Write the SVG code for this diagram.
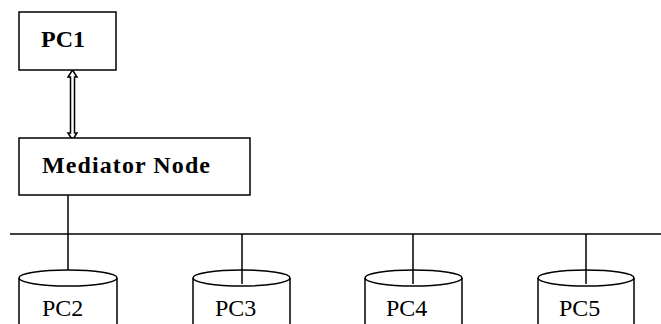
<svg xmlns="http://www.w3.org/2000/svg" width="661" height="324" viewBox="0 0 661 324">
<style>
.box{fill:#fff;stroke:#000;stroke-width:1.5}
.ln{stroke:#000;stroke-width:1.5;fill:none}
.bt{font-family:"Liberation Serif",serif;font-weight:bold;font-size:24px;fill:#000}
.nt{font-family:"Liberation Serif",serif;font-size:24px;fill:#000}
</style>
<rect width="661" height="324" fill="#fff"/>
<g id="connectors">
<path class="ln" d="M72.5,70 L77,77 L74.5,77 L74.5,133 L77,133 L72.5,140 L68,133 L70.5,133 L70.5,77 L68,77 Z"/>
<line class="ln" x1="68" y1="195" x2="68" y2="234"/>
<line class="ln" x1="10" y1="234" x2="661" y2="234"/>
<line class="ln" x1="242" y1="234" x2="242" y2="284"/>
<line class="ln" x1="413" y1="234" x2="413" y2="284"/>
<line class="ln" x1="586" y1="234" x2="586" y2="284"/>
</g>
<g id="pc1">
<rect class="box" x="19" y="12" width="97" height="58"/>
<text class="bt" x="41" y="47" textLength="44" lengthAdjust="spacingAndGlyphs">PC1</text>
</g>
<g id="mediator">
<rect class="box" x="19" y="138" width="231" height="57"/>
<text class="bt" x="42" y="173" textLength="168" lengthAdjust="spacing">Mediator Node</text>
</g>
<g id="pc2">
<path class="ln" d="M19,278 L19,324 M117,278 L117,324"/>
<ellipse class="ln" cx="68" cy="278" rx="49" ry="8"/>
<line class="ln" x1="68" y1="234" x2="68" y2="270"/>
<text class="nt" x="42" y="316">PC2</text>
</g>
<g id="pc3">
<path class="ln" d="M193,278 L193,324 M290,278 L290,324"/>
<ellipse class="ln" cx="241.5" cy="278" rx="48.5" ry="8"/>
<text class="nt" x="215" y="316">PC3</text>
</g>
<g id="pc4">
<path class="ln" d="M365,278 L365,324 M462,278 L462,324"/>
<ellipse class="ln" cx="413.5" cy="278" rx="48.5" ry="8"/>
<text class="nt" x="386" y="316">PC4</text>
</g>
<g id="pc5">
<path class="ln" d="M538,278 L538,324 M634,278 L634,324"/>
<ellipse class="ln" cx="586" cy="278" rx="48" ry="8"/>
<text class="nt" x="559" y="316">PC5</text>
</g>
</svg>
